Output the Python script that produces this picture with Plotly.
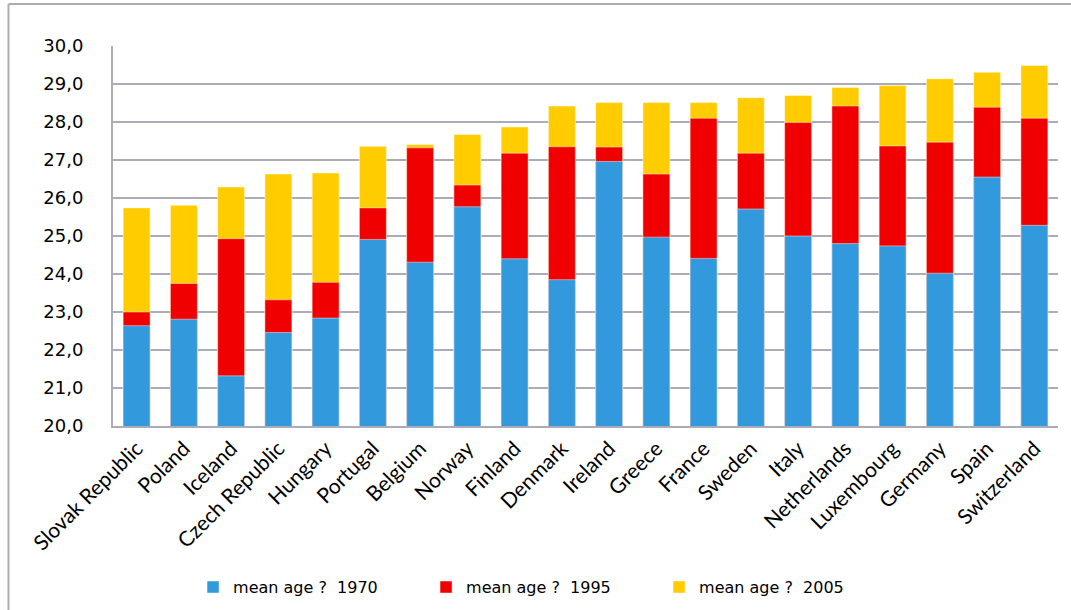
import plotly.graph_objects as go

countries = ["Slovak Republic", "Poland", "Iceland", "Czech Republic", "Hungary",
             "Portugal", "Belgium", "Norway", "Finland", "Denmark", "Ireland",
             "Greece", "France", "Sweden", "Italy", "Netherlands", "Luxembourg",
             "Germany", "Spain", "Switzerland"]
age_1970 = [22.64, 22.81, 21.32, 22.46, 22.84, 24.91, 24.31, 25.77, 24.40, 23.85,
            26.96, 24.97, 24.41, 25.71, 25.00, 24.80, 24.74, 24.02, 26.55, 25.28]
age_1995 = [23.00, 23.75, 24.93, 23.32, 23.78, 25.74, 27.32, 26.34, 27.18, 27.35,
            27.34, 26.63, 28.10, 27.18, 27.99, 28.42, 27.37, 27.47, 28.39, 28.10]
age_2005 = [25.74, 25.81, 26.29, 26.63, 26.66, 27.36, 27.41, 27.67, 27.87, 28.42,
            28.51, 28.51, 28.51, 28.64, 28.70, 28.91, 28.96, 29.14, 29.31, 29.49]
series_names = ["mean age ?  1970", "mean age ?  1995", "mean age ?  2005"]
colors = ["#3399DD", "#F00000", "#FFCC00"]

fig = go.Figure()
# draw tallest first so that earlier years are overlaid on top
for vals, name, col, rank in [(age_2005, series_names[2], colors[2], 3),
                              (age_1995, series_names[1], colors[1], 2),
                              (age_1970, series_names[0], colors[0], 1)]:
    fig.add_trace(go.Bar(x=countries, y=vals, name=name, legendrank=rank,
                         marker=dict(color=col, line=dict(color="rgba(255,255,255,0.45)", width=1))))

grid = "#ABABBA"
fig.update_layout(
    width=1071, height=610,
    margin=dict(l=113, r=13, t=46, b=184, autoexpand=False),
    barmode="overlay", bargap=0.43,
    plot_bgcolor="white", paper_bgcolor="white",
    separators=", ",
    font=dict(family="DejaVu Sans", color="black"),
    showlegend=True,
    legend=dict(orientation="h", x=0.0847, xanchor="left", y=-0.424, yanchor="middle",
                entrywidth=188, entrywidthmode="pixels",
                font=dict(family="DejaVu Sans", size=16), itemclick=False),
    xaxis=dict(tickangle=-45, tickfont=dict(family="Lato", size=21),
               showline=True, linecolor=grid, linewidth=2, ticks="",
               showgrid=False, automargin=False),
    yaxis=dict(range=[20, 30], tickvals=[20, 21, 22, 23, 24, 25, 26, 27, 28, 29, 30],
               tickformat=".1f", tickfont=dict(family="DejaVu Sans", size=18),
               showgrid=True, gridcolor=grid, gridwidth=2,
               showline=True, linecolor=grid, linewidth=2, ticks="",
               ticklabelstandoff=24, zeroline=False, automargin=False),
    shapes=[
        dict(type="line", xref="paper", yref="paper", x0=-0.1106, x1=-0.1106,
             y0=-0.49, y1=1.1105, line=dict(color=grid, width=2)),
        dict(type="line", xref="paper", yref="paper", x0=-0.1106, x1=1.02,
             y0=1.1105, y1=1.1105, line=dict(color=grid, width=2)),
    ],
)

fig.write_html("out.html", config={"displayModeBar": False},
               post_script="document.body.style.margin='0';")
